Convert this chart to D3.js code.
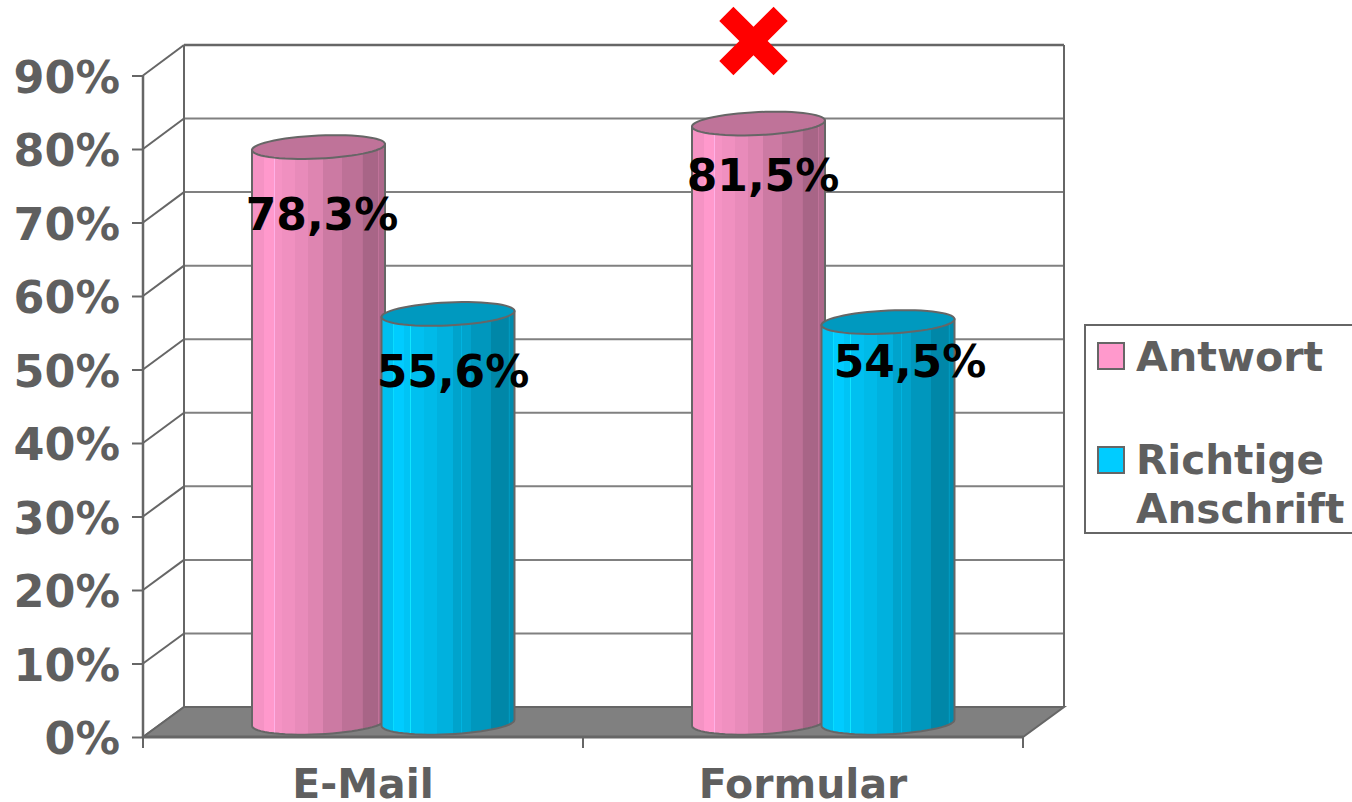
<!DOCTYPE html>
<html><head><meta charset="utf-8">
<script src="https://cdn.jsdelivr.net/npm/d3@7/dist/d3.min.js"></script>
<style>html,body{margin:0;padding:0;background:#fff;overflow:hidden}svg{display:block}text{font-family:"DejaVu Sans",Verdana,sans-serif;font-weight:700}</style>
</head><body><script>
const categories = ["E-Mail", "Formular"];
const seriesNames = ["Antwort", "Richtige Anschrift"];
const antwort = [78.3, 81.5];
const anschrift = [55.6, 54.5];
const yTicks = [0,10,20,30,40,50,60,70,80,90];
const seriesColors = ["#FF99CC", "#00CCFF"];

const W=1352,H=802, GREY="#666666", TXT="#5F5F5F";
const svg=d3.select("body").append("svg").attr("width",W).attr("height",H);
const x=d3.scaleBand().domain(categories).range([143,1023]);
const yFront=d3.scaleLinear().domain([0,90]).range([737,75.5]);
const yBack=d3.scaleLinear().domain([0,90]).range([707,45]);
const yMid=v=>(yFront(v)+yBack(v))/2+0.8;
const DX=41;
const series=[antwort,anschrift];

// walls
const yl=yBack.domain()[1];
svg.selectAll("line.grid").data(yTicks.slice(1)).join("line")
  .attr("x1",143+DX).attr("x2",1023+DX).attr("y1",d=>yBack(d)).attr("y2",d=>yBack(d))
  .attr("stroke",d=>d===yl?GREY:"#808080").attr("stroke-width",d=>d===yl?2.5:2);
svg.selectAll("line.side").data(yTicks).join("line")
  .attr("x1",143).attr("x2",143+DX).attr("y1",d=>yFront(d)).attr("y2",d=>yBack(d))
  .attr("stroke",GREY).attr("stroke-width",2);
[143+DX,1023+DX].forEach(p=>svg.append("line").attr("x1",p).attr("x2",p).attr("y1",yBack(yl)).attr("y2",yBack(0)).attr("stroke",GREY).attr("stroke-width",2));
// floor
svg.append("path").attr("d",d3.line()([[143,yFront(0)],[143+DX,yBack(0)],[1023+DX,yBack(0)],[1023,yFront(0)]])+"Z")
  .attr("fill","#808080").attr("stroke",GREY).attr("stroke-width",2);

// axes
const ax=svg.append("g").attr("transform","translate(143,0)")
  .call(d3.axisLeft(yFront).tickValues(yTicks).tickSize(11).tickPadding(12).tickFormat(d=>d+"%"));
ax.selectAll("line").attr("stroke",GREY).attr("stroke-width",2);
ax.select(".domain").attr("stroke",GREY).attr("stroke-width",2.5).attr("d","M0,75.5V737");
ax.selectAll("text").attr("fill",TXT).style("font-size","44.5px").attr("dy","0.38em");
svg.append("line").attr("x1",143).attr("x2",1023).attr("y1",yFront(0)).attr("y2",yFront(0)).attr("stroke",GREY).attr("stroke-width",3);
const bounds=[...categories.map(c=>x(c)),x(categories[1])+x.bandwidth()];
svg.selectAll("line.xt").data(bounds).join("line").attr("x1",d=>d).attr("x2",d=>d).attr("y1",737).attr("y2",748).attr("stroke",GREY).attr("stroke-width",2);
svg.selectAll("text.cat").data(categories).join("text").attr("class","cat")
  .attr("x",c=>x(c)+x.bandwidth()/2).attr("y",798).attr("text-anchor","middle")
  .attr("fill",TXT).style("font-size","41px").text(c=>c);

// facet gradients: stepped bands with thin lighter seams
const bands=[[0,.96],[.088,1],[.168,.96],[.225,.94],[.323,.91],[.42,.87],[.536,.8],[.674,.74],[.825,.66],[.95,.68],[1,.68]];
const seams=[[.168,.825,.95],[.086,.214,.60,.835,.96]];
const bandShade=[[.96],[.94]];
const defs=svg.append("defs");
const shade=(c,s)=>{const r=d3.rgb(c);const t=s>1?s-1:0;return d3.rgb(Math.min(255,r.r*s+t*255),Math.min(255,r.g*s+t*255),Math.min(255,r.b*s+t*255)).formatHex();};
seriesColors.forEach((c,i)=>{
  const g=defs.append("linearGradient").attr("id","g"+i).attr("x1",0).attr("x2",1).attr("y1",0).attr("y2",0);
  const add=(o,s)=>g.append("stop").attr("offset",o).attr("stop-color",shade(c,s));
  for(let k=0;k<bands.length-1;k++){
    const [a,s]=bands[k],[b]=bands[k+1];
    const base=k===0?bandShade[i][0]:s;
    const inner=seams[i].filter(q=>q>=a&&q<b).sort((p,q)=>p-q);
    let cur=a;
    inner.forEach(q=>{
      add(cur,base); add(q,base); add(q,Math.min(base*1.1,1.1)); add(q+.006,Math.min(base*1.1,1.1)); cur=q+.006;
    });
    add(cur,base); add(b,base);
  }
});

const BW=133, RY=11.5, TILT=0.045;
const angles=d3.range(0,361,6).map(a=>a*Math.PI/180);
const rim=(cx,cy,from,to)=>angles.filter(a=>a>=from-1e-6&&a<=to+1e-6).map(a=>{
  const dx=Math.cos(a)*BW/2; return [cx+dx,cy+Math.sin(a)*RY-dx*TILT];
});
const line=d3.line();
const centers=[-65,65];
series.forEach((vals,s)=>{
  const g=svg.append("g");
  vals.forEach((v,i)=>{
    const cx=x(categories[i])+x.bandwidth()/2+DX/2+centers[s]-(s?0.5:0);
    const top=yMid(v), bot=yMid(0);
    const lower=rim(cx,bot,0,Math.PI);
    const upper=rim(cx,top,0,Math.PI);
    const body=[upper[0],...lower,upper[upper.length-1]];
    g.append("path").attr("d",line(body)+"Z").attr("fill",`url(#g${s})`).attr("stroke",GREY).attr("stroke-width",2).attr("stroke-linejoin","round");
    const c=d3.rgb(seriesColors[s]);
    g.append("path").attr("d",line(rim(cx,top,0,2*Math.PI))+"Z")
      .attr("fill",d3.rgb(c.r*.75,c.g*.75,c.b*.75).formatHex()).attr("stroke",GREY).attr("stroke-width",2);
  });
});

// value labels (hand-placed in the original)
const labelPlace=[[[322,229.5],[763,191]],[[453,386.5],[910,377]]];
series.forEach((vals,s)=>vals.forEach((v,i)=>{
  svg.append("text").attr("x",labelPlace[s][i][0]).attr("y",labelPlace[s][i][1]).attr("text-anchor","middle")
    .attr("fill","#000").style("font-size","44px").text(v.toFixed(1).replace(".",",")+"%");
}));

// legend
svg.append("rect").attr("x",1085).attr("y",325).attr("width",268).attr("height",208).attr("fill","#fff").attr("stroke",GREY).attr("stroke-width",2);
[343,447].forEach((y,i)=>svg.append("rect").attr("x",1098).attr("y",y).attr("width",26).attr("height",26).attr("fill",seriesColors[i]).attr("stroke",GREY).attr("stroke-width",2));
const lt=(t,y,fs)=>svg.append("text").attr("x",1136).attr("y",y).attr("fill",TXT).style("font-size",fs+"px").text(t);
lt(seriesNames[0],371,41.2);
const parts=seriesNames[1].split(" ");
lt(parts[0],474,40.6); lt(parts[1],523,40.6);

// red cross
const cross=svg.append("g").attr("transform","translate(753.5,41) rotate(45)");
const L=38.4,w=10;
cross.append("path").attr("fill","#FF0000").attr("d",line([[-w,-L],[w,-L],[w,-w],[L,-w],[L,w],[w,w],[w,L],[-w,L],[-w,w],[-L,w],[-L,-w],[-w,-w]])+"Z");
</script></body></html>
